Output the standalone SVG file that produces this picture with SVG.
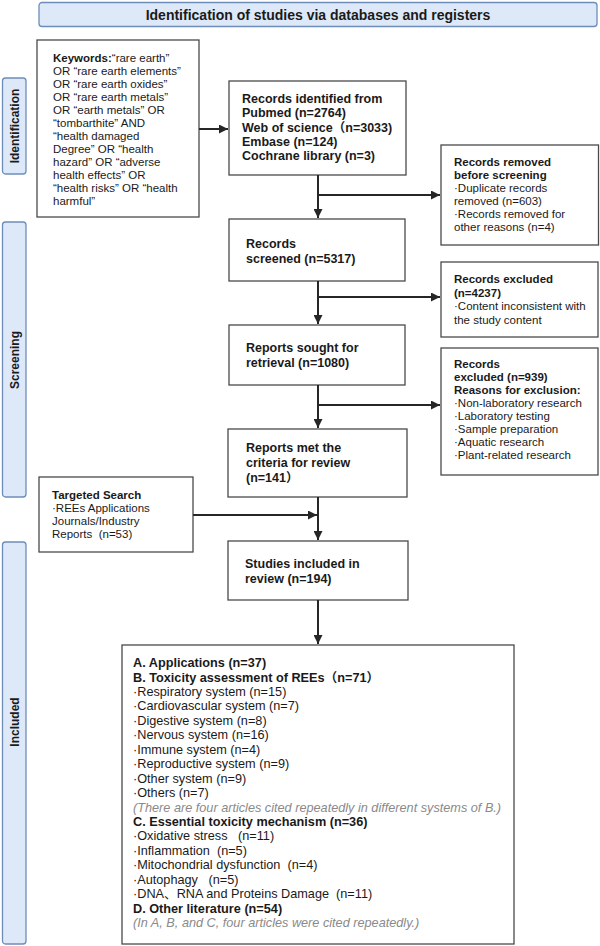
<svg xmlns="http://www.w3.org/2000/svg" width="600" height="946" viewBox="0 0 600 946">
<defs>
<marker id="ah" viewBox="0 0 10 10" refX="10" refY="5" markerWidth="9" markerHeight="9" markerUnits="userSpaceOnUse" orient="auto">
<path d="M0,0 L10,5 L0,10 z" fill="#262626"/>
</marker>
<style>
text{font-family:"Liberation Sans",Arial,"Noto Sans CJK SC",sans-serif;fill:#1a1a1a;white-space:pre}
.box{fill:#fff;stroke:#4a4a4a;stroke-width:1.3}
.blue{fill:#dde9f8;stroke:#6d8db8;stroke-width:1.3}
.hd{font-size:14px;font-weight:bold}
.side{font-size:12px;font-weight:bold}
.s{font-size:11.5px}
.m{font-size:12.5px;font-weight:bold}
.f{font-size:12.7px}
.b{font-weight:bold}
.it{font-style:italic;fill:#8a8a8a}
.con{fill:none;stroke:#262626;stroke-width:2;marker-end:url(#ah)}
</style>
</defs>

<g id="header">
<rect class="blue" x="39" y="2.5" width="558" height="24" rx="3"/>
<text class="hd" x="318" y="19.5" text-anchor="middle">Identification of studies via databases and registers</text>
</g>

<g id="phase-identification">
<rect class="blue" x="2.5" y="78" width="23.5" height="96" rx="3"/>
<text class="side" transform="translate(18.5,126) rotate(-90)" text-anchor="middle">Identification</text>
</g>
<g id="phase-screening">
<rect class="blue" x="2.5" y="222" width="23.5" height="275" rx="3"/>
<text class="side" transform="translate(18.5,360) rotate(-90)" text-anchor="middle">Screening</text>
</g>
<g id="phase-included">
<rect class="blue" x="2.5" y="542" width="23.5" height="402" rx="3"/>
<text class="side" transform="translate(18.5,722) rotate(-90)" text-anchor="middle">Included</text>
</g>

<g id="keywords">
<rect class="box" x="37" y="40" width="162" height="177"/>
<text class="s" x="53" y="62"><tspan class="b">Keywords:</tspan>“rare earth”</text>
<text class="s" x="53" y="75">OR “rare earth elements”</text>
<text class="s" x="53" y="88">OR “rare earth oxides”</text>
<text class="s" x="53" y="101">OR “rare earth metals”</text>
<text class="s" x="53" y="114">OR “earth metals” OR</text>
<text class="s" x="53" y="127">“tombarthite” AND</text>
<text class="s" x="53" y="140">“health damaged</text>
<text class="s" x="53" y="153">Degree” OR “health</text>
<text class="s" x="53" y="166">hazard” OR “adverse</text>
<text class="s" x="53" y="179">health effects” OR</text>
<text class="s" x="53" y="192">“health risks” OR “health</text>
<text class="s" x="53" y="205">harmful”</text>
</g>

<g id="records-identified">
<rect class="box" x="229" y="81" width="177" height="94"/>
<text class="m" x="242" y="103">Records identified from</text>
<text class="m" x="242" y="117.3">Pubmed (n=2764)</text>
<text class="m" x="242" y="131.6">Web of science（n=3033)</text>
<text class="m" x="242" y="145.9">Embase (n=124)</text>
<text class="m" x="242" y="160.2">Cochrane library (n=3)</text>
</g>

<g id="records-removed">
<rect class="box" x="441" y="145" width="157.5" height="100"/>
<text class="s b" x="454" y="166">Records removed</text>
<text class="s b" x="454" y="179">before screening</text>
<text class="s" x="454" y="192">·Duplicate records</text>
<text class="s" x="454" y="205">removed (n=603)</text>
<text class="s" x="454" y="218">·Records removed for</text>
<text class="s" x="454" y="231">other reasons (n=4)</text>
</g>

<g id="records-screened">
<rect class="box" x="229" y="219" width="176" height="62"/>
<text class="m" x="246" y="248">Records</text>
<text class="m" x="246" y="263">screened (n=5317)</text>
</g>

<g id="records-excluded-4237">
<rect class="box" x="441" y="262" width="157" height="75"/>
<text class="s b" x="454" y="283">Records excluded</text>
<text class="s b" x="454" y="296.5">(n=4237)</text>
<text class="s" x="454" y="310">·Content inconsistent with</text>
<text class="s" x="454" y="323.5">the study content</text>
</g>

<g id="reports-sought">
<rect class="box" x="229" y="325" width="176" height="60"/>
<text class="m" x="246" y="352">Reports sought for</text>
<text class="m" x="246" y="366.5">retrieval (n=1080)</text>
</g>

<g id="records-excluded-939">
<rect class="box" x="441" y="348" width="157" height="127"/>
<text class="s b" x="454" y="368">Records</text>
<text class="s b" x="454" y="381">excluded (n=939)</text>
<text class="s b" x="454" y="394">Reasons for exclusion:</text>
<text class="s" x="454" y="407">·Non-laboratory research</text>
<text class="s" x="454" y="420">·Laboratory testing</text>
<text class="s" x="454" y="433">·Sample preparation</text>
<text class="s" x="454" y="446">·Aquatic research</text>
<text class="s" x="454" y="459">·Plant-related research</text>
</g>

<g id="reports-met">
<rect class="box" x="228" y="429" width="179" height="68"/>
<text class="m" x="246" y="452">Reports met the</text>
<text class="m" x="246" y="467">criteria for review</text>
<text class="m" x="246" y="482">(n=141）</text>
</g>

<g id="targeted-search">
<rect class="box" x="39" y="477" width="154" height="75"/>
<text class="s b" x="52" y="499">Targeted Search</text>
<text class="s" x="52" y="512">·REEs Applications</text>
<text class="s" x="52" y="525">Journals/Industry</text>
<text class="s" x="52" y="538" xml:space="preserve">Reports  (n=53)</text>
</g>

<g id="studies-included">
<rect class="box" x="228" y="541" width="180" height="59"/>
<text class="m" x="245" y="568">Studies included in</text>
<text class="m" x="245" y="583">review (n=194)</text>
</g>

<g id="included-details">
<rect class="box" x="122" y="645" width="392" height="299"/>
<text class="f b" x="133" y="667">A. Applications (n=37)</text>
<text class="f b" x="133" y="681.5">B. Toxicity assessment of REEs（n=71）</text>
<text class="f" x="133" y="695.9">·Respiratory system (n=15)</text>
<text class="f" x="133" y="710.4">·Cardiovascular system (n=7)</text>
<text class="f" x="133" y="724.8">·Digestive system (n=8)</text>
<text class="f" x="133" y="739.3">·Nervous system (n=16)</text>
<text class="f" x="133" y="753.7">·Immune system (n=4)</text>
<text class="f" x="133" y="768.2">·Reproductive system (n=9)</text>
<text class="f" x="133" y="782.6">·Other system (n=9)</text>
<text class="f" x="133" y="797.1">·Others (n=7)</text>
<text class="f it" x="133" y="811.5">(There are four articles cited repeatedly in different systems of B.)</text>
<text class="f b" x="133" y="826">C. Essential toxicity mechanism (n=36)</text>
<text class="f" x="133" y="840.4" xml:space="preserve">·Oxidative stress   (n=11)</text>
<text class="f" x="133" y="854.9" xml:space="preserve">·Inflammation  (n=5)</text>
<text class="f" x="133" y="869.3" xml:space="preserve">·Mitochondrial dysfunction  (n=4)</text>
<text class="f" x="133" y="883.8" xml:space="preserve">·Autophagy   (n=5)</text>
<text class="f" x="133" y="898.2" xml:space="preserve">·DNA、RNA and Proteins Damage  (n=11)</text>
<text class="f b" x="133" y="912.7">D. Other literature (n=54)</text>
<text class="f it" x="133" y="927.1">(In A, B, and C, four articles were cited repeatedly.)</text>
</g>

<g id="connectors">
<path class="con" d="M199,129 H228"/>
<path class="con" d="M318,175 V218"/>
<path class="con" d="M318,195 H440"/>
<path class="con" d="M318,281 V324"/>
<path class="con" d="M318,297 H440"/>
<path class="con" d="M318,385 V428"/>
<path class="con" d="M318,405 H440"/>
<path class="con" d="M318,497 V540"/>
<path class="con" d="M193,515 H317"/>
<path class="con" d="M318,600 V644"/>
</g>
</svg>
